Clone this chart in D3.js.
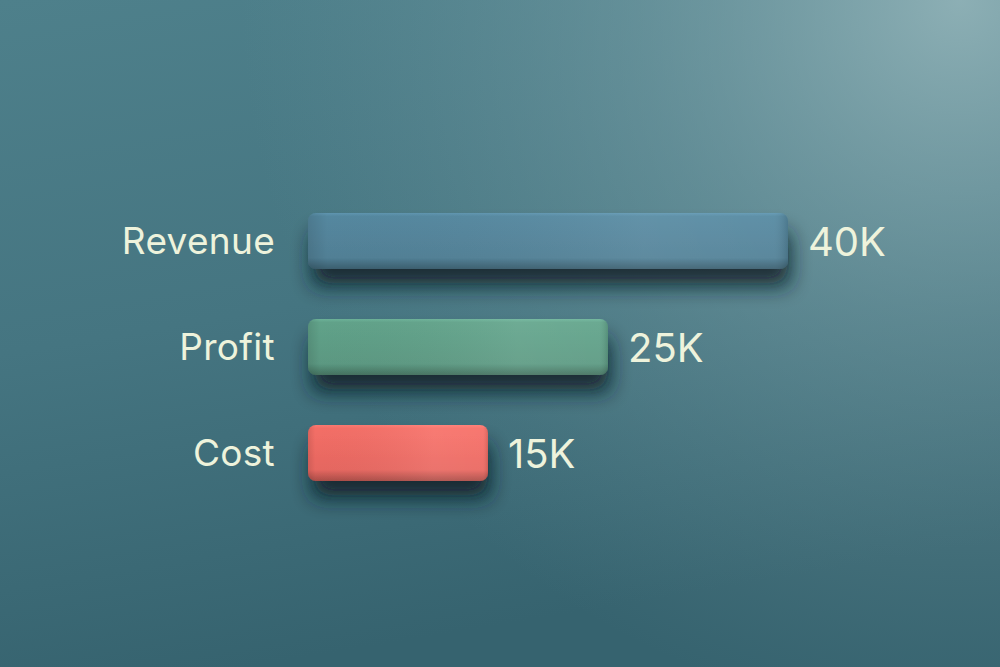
<!DOCTYPE html>
<html><head><meta charset="utf-8">
<script src="https://cdn.jsdelivr.net/npm/d3@7"></script>
<style>html,body{margin:0;padding:0;overflow:hidden;background:#437380}</style>
</head><body>
<script>
const categories = ["Revenue", "Profit", "Cost"];
const values = [40, 25, 15];
const valueLabels = ["40K", "25K", "15K"];
const barColors = ["#53849b", "#5f9e86", "#ee6b64"];

const W = 1000, H = 667;
const svg = d3.select("body").append("svg").attr("width", W).attr("height", H);
const defs = svg.append("defs");

// background: vertical base + highlight in the top-right
const bgv = defs.append("linearGradient").attr("id", "bgv").attr("x1", 0).attr("y1", 0).attr("x2", 0.25).attr("y2", 1);
[[0, "#4e808b"], [0.5, "#457581"], [1, "#36636f"]].forEach(([o, c]) =>
  bgv.append("stop").attr("offset", o).attr("stop-color", c));
svg.append("rect").attr("width", W).attr("height", H).attr("fill", "url(#bgv)");
const bgr = defs.append("radialGradient").attr("id", "bgr")
  .attr("gradientUnits", "userSpaceOnUse").attr("cx", 960).attr("cy", 0).attr("r", 720);
[[0, "#9dbcc0", 0.8], [0.45, "#86aab0", 0.42], [1, "#6f979f", 0]].forEach(([o, c, a]) =>
  bgr.append("stop").attr("offset", o).attr("stop-color", c).attr("stop-opacity", a));
svg.append("rect").attr("width", W).attr("height", H).attr("fill", "url(#bgr)");

// shadow filter
const f = defs.append("filter").attr("id", "sh").attr("x", "-20%").attr("y", "-50%").attr("width", "140%").attr("height", "260%");
f.append("feGaussianBlur").attr("in", "SourceAlpha").attr("stdDeviation", 10).attr("result", "b");
f.append("feOffset").attr("in", "b").attr("dx", 3).attr("dy", 18).attr("result", "o");
f.append("feFlood").attr("flood-color", "#0a1c24").attr("result", "fc");
f.append("feComposite").attr("in", "fc").attr("in2", "o").attr("operator", "in").attr("result", "c");
f.append("feComponentTransfer").attr("in", "c").attr("result", "o2")
  .append("feFuncA").attr("type", "linear").attr("slope", 0.8);
const m = f.append("feMerge");
m.append("feMergeNode").attr("in", "o2");
m.append("feMergeNode").attr("in", "SourceGraphic");

// bar gradients (vertical shading + horizontal lighting)
barColors.forEach((c, i) => {
  const g = defs.append("linearGradient").attr("id", "g" + i).attr("x1", 0).attr("y1", 0).attr("x2", 0).attr("y2", 1);
  const base = d3.color(c);
  g.append("stop").attr("offset", 0).attr("stop-color", base.brighter(0.4));
  g.append("stop").attr("offset", 0.06).attr("stop-color", base.brighter(0.12));
  g.append("stop").attr("offset", 0.8).attr("stop-color", base.darker(0.05));
  g.append("stop").attr("offset", 0.9).attr("stop-color", base.darker(0.45));
  g.append("stop").attr("offset", 1).attr("stop-color", base.darker(0.9));
  const h = defs.append("linearGradient").attr("id", "h" + i).attr("x1", 0).attr("y1", 0).attr("x2", 1).attr("y2", 0);
  h.append("stop").attr("offset", 0).attr("stop-color", "#000").attr("stop-opacity", 0.12);
  h.append("stop").attr("offset", 0.04).attr("stop-color", "#000").attr("stop-opacity", 0.02);
  h.append("stop").attr("offset", 0.7).attr("stop-color", "#fff").attr("stop-opacity", 0.07);
  h.append("stop").attr("offset", 0.97).attr("stop-color", "#fff").attr("stop-opacity", 0.05);
  h.append("stop").attr("offset", 1).attr("stop-color", "#000").attr("stop-opacity", 0.12);
});

const x = d3.scaleLinear().domain([0, 40]).range([308, 788]);
const y = d3.scaleBand().domain(categories).range([213, 481]).paddingInner(50 / 106).paddingOuter(0);

const data = categories.map((c, i) => ({ c, v: values[i], l: valueLabels[i], i }));

const g = svg.append("g");
g.selectAll("rect.bar").data(data).join("rect").attr("class", "bar")
  .attr("x", x(0)).attr("y", d => y(d.c))
  .attr("width", d => x(d.v) - x(0)).attr("height", y.bandwidth())
  .attr("rx", 8).attr("fill", d => "url(#g" + d.i + ")").attr("filter", "url(#sh)");
g.selectAll("rect.hl").data(data).join("rect").attr("class", "hl")
  .attr("x", x(0)).attr("y", d => y(d.c))
  .attr("width", d => x(d.v) - x(0)).attr("height", y.bandwidth())
  .attr("rx", 8).attr("fill", d => "url(#h" + d.i + ")");

const font = "Inter, 'Open Sans', sans-serif";
g.selectAll("text.cat").data(data).join("text").attr("class", "cat")
  .attr("x", 275).attr("y", d => y(d.c) + y.bandwidth() / 2)
  .attr("dy", "0.36em").attr("text-anchor", "end")
  .attr("font-family", font).attr("font-size", 37).attr("font-weight", 400)
  .attr("letter-spacing", 0.3)
  .attr("fill", "#eef3dc").text(d => d.c);
g.selectAll("text.val").data(data).join("text").attr("class", "val")
  .attr("x", d => x(d.v) + 20).attr("y", d => y(d.c) + y.bandwidth() / 2)
  .attr("dy", "0.37em").attr("text-anchor", "start")
  .attr("font-family", font).attr("font-size", 40).attr("font-weight", 400)
  .attr("fill", "#eef3dc").text(d => d.l);
</script>
</body></html>
